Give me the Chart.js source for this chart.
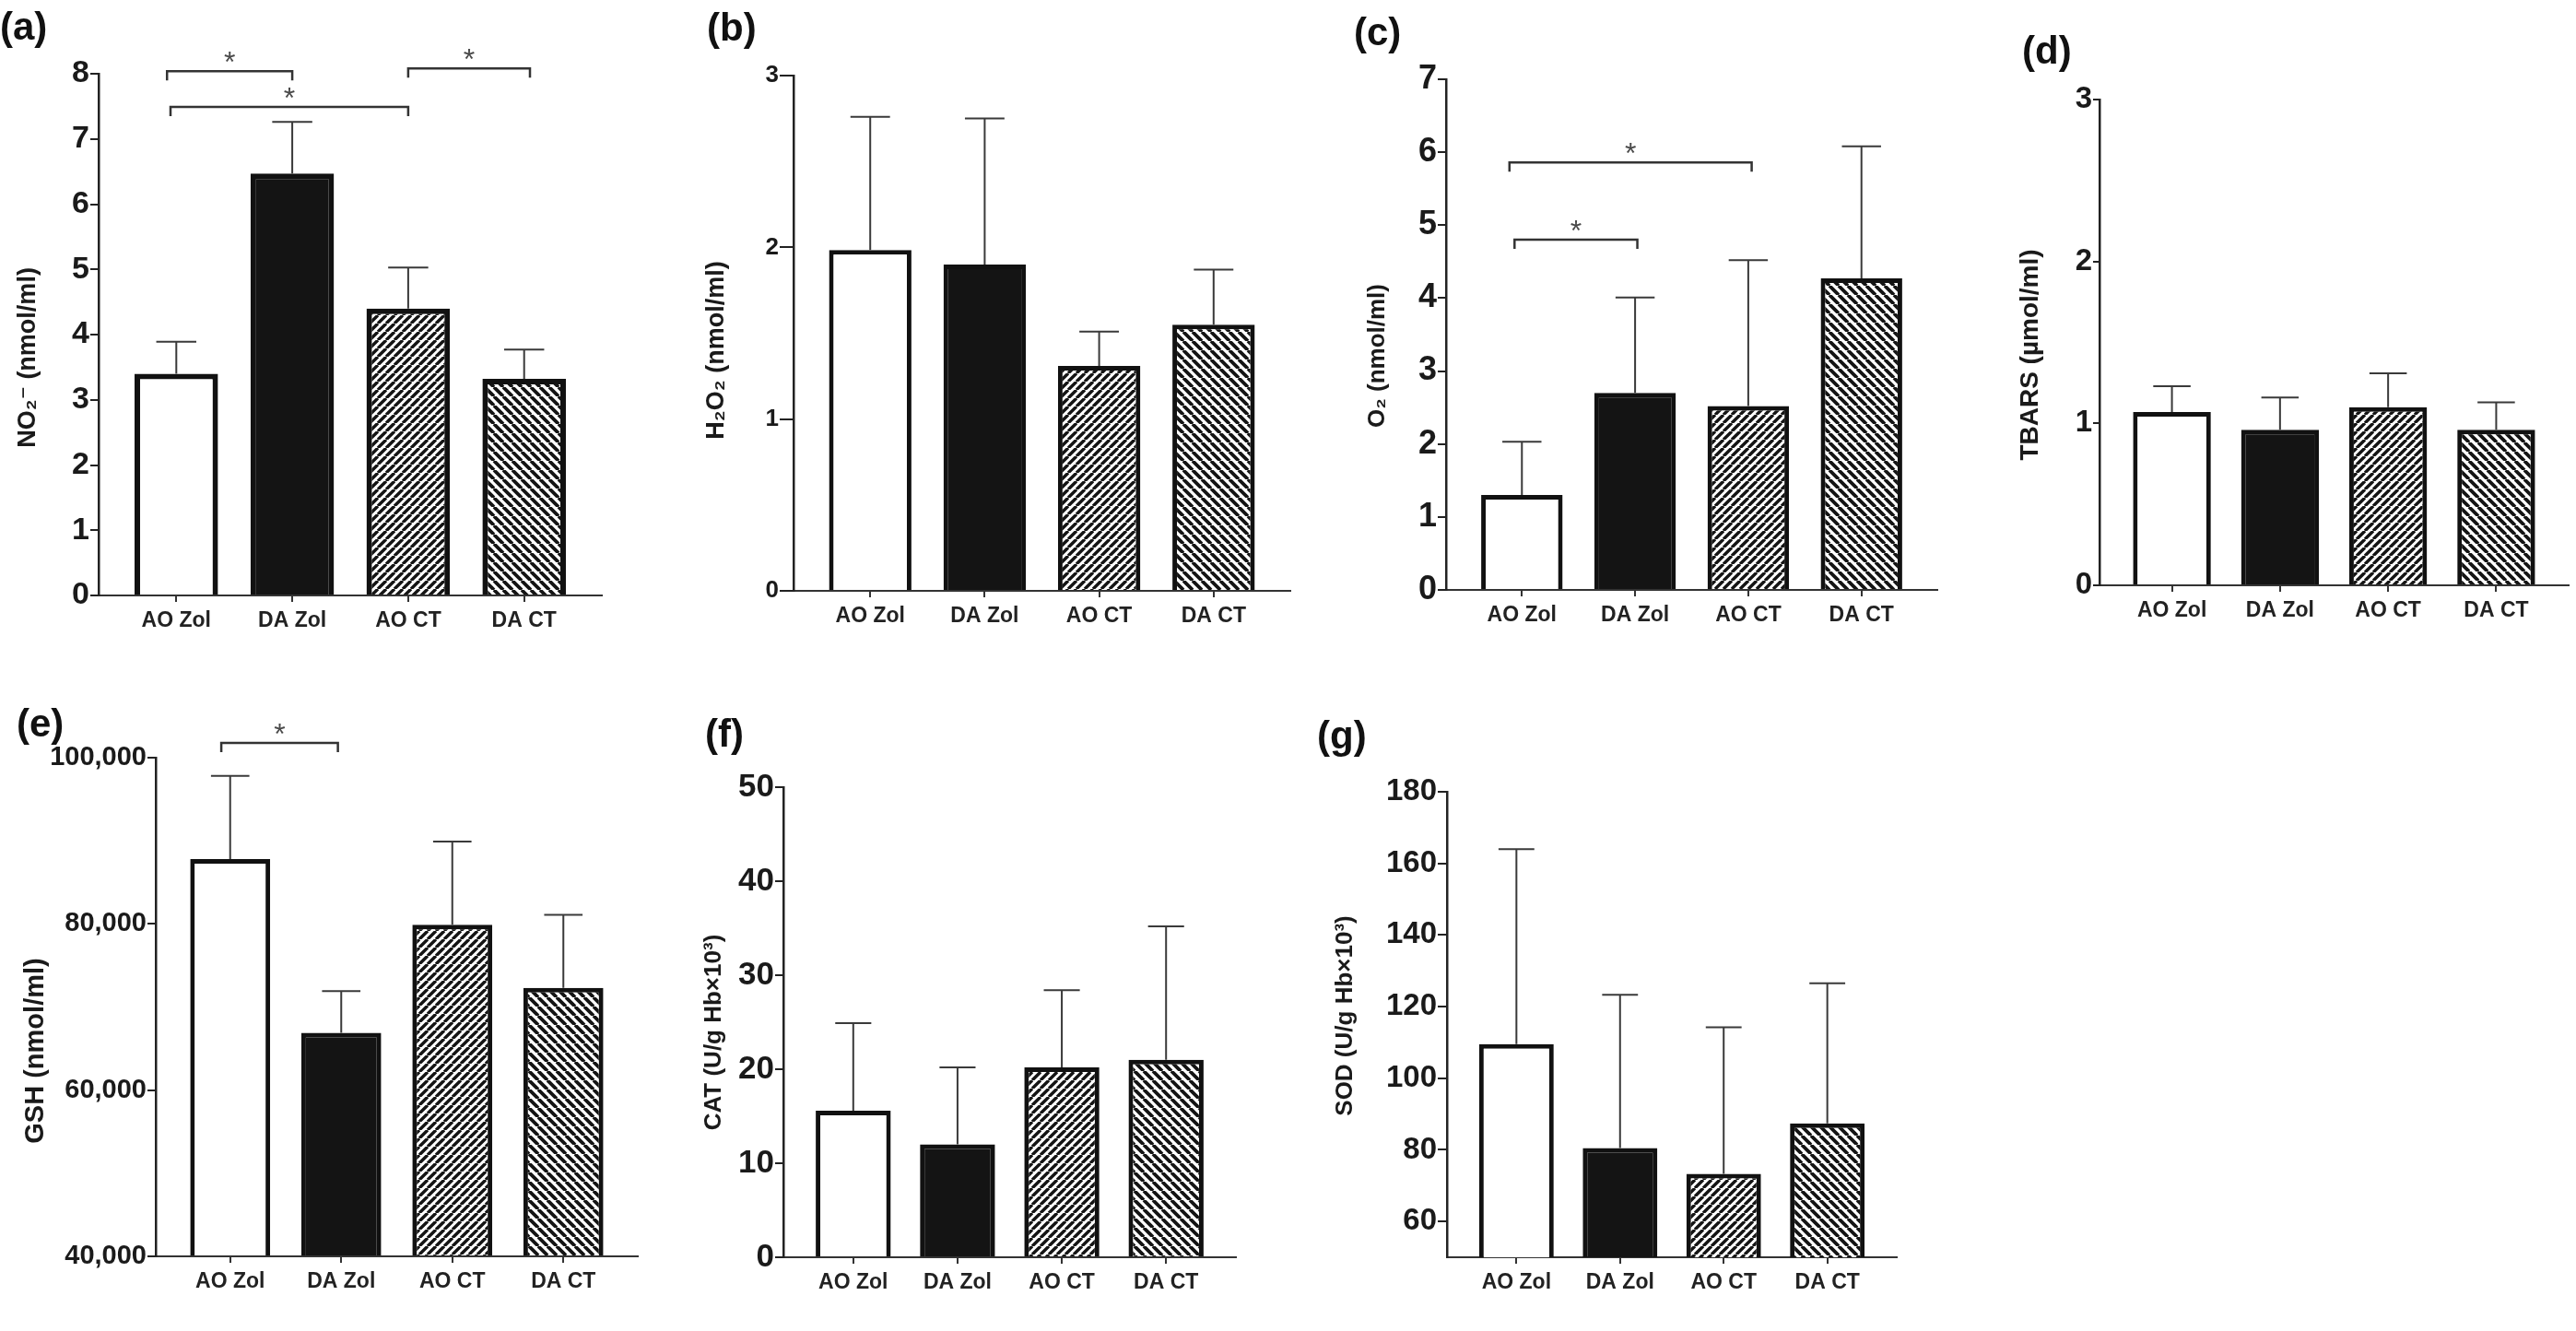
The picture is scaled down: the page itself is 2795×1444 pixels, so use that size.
<!DOCTYPE html>
<html>
<head>
<meta charset="utf-8">
<script src="https://cdn.jsdelivr.net/npm/chart.js@4.4.1/dist/chart.umd.min.js"></script>
<style>
  html, body { margin: 0; padding: 0; background: #fff; }
  body { position: relative; width: 2795px; height: 1444px; overflow: hidden; }
  canvas { position: absolute; }
</style>
</head>
<body>
<canvas id="panelA"></canvas>
<canvas id="panelB"></canvas>
<canvas id="panelC"></canvas>
<canvas id="panelD"></canvas>
<canvas id="panelE"></canvas>
<canvas id="panelF"></canvas>
<canvas id="panelG"></canvas>
<script>
// ==========================
// DATA (mean, SD, y ticks, significance brackets)
// ==========================
const groups = ["AO Zol", "DA Zol", "AO CT", "DA CT"];

const no2Mean = [3.40, 6.47, 4.40, 3.32];
const no2Sd = [0.49, 0.79, 0.63, 0.45];
const no2Ticks = [0, 1, 2, 3, 4, 5, 6, 7, 8];
const no2Sig = [{ from: -0.08, to: 1, y: 8.04 }, { from: -0.05, to: 2, y: 7.49 }, { from: 2, to: 3.05, y: 8.08 }];

const h2o2Mean = [1.985, 1.90, 1.31, 1.55];
const h2o2Sd = [0.775, 0.85, 0.20, 0.32];
const h2o2Ticks = [0, 1, 2, 3];

const o2Mean = [1.30, 2.70, 2.52, 4.27];
const o2Sd = [0.73, 1.31, 2.00, 1.81];
const o2Ticks = [0, 1, 2, 3, 4, 5, 6, 7];
const o2Sig = [{ from: -0.11, to: 2.03, y: 5.86 }, { from: -0.065, to: 1.02, y: 4.80 }];

const tbarsMean = [1.07, 0.96, 1.10, 0.96];
const tbarsSd = [0.16, 0.20, 0.21, 0.17];
const tbarsTicks = [0, 1, 2, 3];

const gshMean = [87800, 66900, 79900, 72300];
const gshSd = [10000, 5000, 10000, 8800];
const gshTicks = [40000, 60000, 80000, 100000];
const gshSig = [{ from: -0.08, to: 0.97, y: 101770 }];

const catMean = [15.6, 12.0, 20.2, 21.0];
const catSd = [9.3, 8.2, 8.2, 14.2];
const catTicks = [0, 10, 20, 30, 40, 50];

const sodMean = [109.5, 80.5, 73.3, 87.4];
const sodSd = [54.5, 42.8, 40.9, 39.1];
const sodTicks = [60, 80, 100, 120, 140, 160, 180];

// ==========================
// PANEL LAYOUT (page pixels)
// ==========================
const FONT = "'Liberation Sans', Arial, 'DejaVu Sans', sans-serif";
const rows = [{ top: 0, height: 720 }, { top: 722, height: 722 }];

const panels = [
  { id: "panelA", letter: "(a)", title: "NO₂⁻ (nmol/ml)", mean: no2Mean, sd: no2Sd, ticks: no2Ticks, sig: no2Sig,
    yMin: 0, yMax: 8, row: 0, axisL: 107, axisR: 653, top: 80, bottom: 646,
    letterAt: [0, 31], titleAt: [31, 388], tickFont: 34, titleFont: 27, tickLen: 9, border: 6 },
  { id: "panelB", letter: "(b)", title: "H₂O₂ (nmol/ml)", mean: h2o2Mean, sd: h2o2Sd, ticks: h2o2Ticks, sig: [],
    yMin: 0, yMax: 3, row: 0, axisL: 861, axisR: 1400, top: 82, bottom: 641,
    letterAt: [767, 32], titleAt: [778, 380], tickFont: 26, titleFont: 27, tickLen: 15, border: 5 },
  { id: "panelC", letter: "(c)", title: "O₂ (nmol/ml)", mean: o2Mean, sd: o2Sd, ticks: o2Ticks, sig: o2Sig,
    yMin: 0, yMax: 7, row: 0, axisL: 1569, axisR: 2102, top: 86, bottom: 640,
    letterAt: [1469, 37], titleAt: [1495, 386], tickFont: 36, titleFont: 26, tickLen: 9, border: 5 },
  { id: "panelD", letter: "(d)", title: "TBARS (µmol/ml)", mean: tbarsMean, sd: tbarsSd, ticks: tbarsTicks, sig: [],
    yMin: 0, yMax: 3, row: 0, axisL: 2278, axisR: 2787, top: 108, bottom: 635,
    letterAt: [2194, 57], titleAt: [2203, 385], tickFont: 33, titleFont: 28, tickLen: 7, border: 5 },
  { id: "panelE", letter: "(e)", title: "GSH (nmol/ml)", mean: gshMean, sd: gshSd, ticks: gshTicks, sig: gshSig,
    yMin: 40000, yMax: 100000, row: 1, axisL: 169, axisR: 692, top: 822, bottom: 1363,
    letterAt: [18, 787], titleAt: [39, 1140], tickFont: 29, titleFont: 29, tickLen: 9, border: 5 },
  { id: "panelF", letter: "(f)", title: "CAT (U/g Hb×10³)", mean: catMean, sd: catSd, ticks: catTicks, sig: [],
    yMin: 0, yMax: 50, row: 1, axisL: 850, axisR: 1341, top: 854, bottom: 1364,
    letterAt: [765, 798], titleAt: [775, 1120], tickFont: 35, titleFont: 26, tickLen: 9, border: 5 },
  { id: "panelG", letter: "(g)", title: "SOD (U/g Hb×10³)", mean: sodMean, sd: sodSd, ticks: sodTicks, sig: [],
    yMin: 50, yMax: 180, row: 1, axisL: 1570, axisR: 2058, top: 859, bottom: 1364,
    letterAt: [1429, 800], titleAt: [1460, 1102], tickFont: 33, titleFont: 26, tickLen: 10, border: 5 }
];

function hatch(ctx, dir, size, lw) {
  const tile = document.createElement("canvas");
  tile.width = tile.height = size;
  const g = tile.getContext("2d");
  g.fillStyle = "#fff";
  g.fillRect(0, 0, size, size);
  g.strokeStyle = "#141414";
  g.lineWidth = lw;
  g.beginPath();
  for (const o of [-size, 0, size]) {
    if (dir > 0) { g.moveTo(o, size); g.lineTo(o + size, 0); }
    else { g.moveTo(o, 0); g.lineTo(o + size, size); }
  }
  g.stroke();
  return ctx.createPattern(tile, "repeat");
}

// error bars, significance brackets, panel letter and y title
function decorPlugin(p, cx, cy) {
  return {
    id: "decor",
    afterDatasetsDraw(chart) {
      const ctx = chart.ctx;
      const xs = chart.scales.x, ys = chart.scales.y;
      const meta = chart.getDatasetMeta(0);
      ctx.save();
      ctx.strokeStyle = "#3a3a3a";
      ctx.lineWidth = 2;
      meta.data.forEach((bar, i) => {
        const top = ys.getPixelForValue(p.mean[i] + p.sd[i]);
        const half = bar.width * 0.24;
        ctx.beginPath();
        ctx.moveTo(bar.x, bar.y);
        ctx.lineTo(bar.x, top);
        ctx.moveTo(bar.x - half, top);
        ctx.lineTo(bar.x + half, top);
        ctx.stroke();
      });

      ctx.strokeStyle = "#333";
      ctx.lineWidth = 2.5;
      ctx.fillStyle = "#4a4a4a";
      ctx.font = "32px " + FONT;
      ctx.textAlign = "center";
      ctx.textBaseline = "alphabetic";
      p.sig.forEach(s => {
        const x1 = xs.getPixelForValue(s.from), x2 = xs.getPixelForValue(s.to);
        const yy = ys.getPixelForValue(s.y);
        ctx.beginPath();
        ctx.moveTo(x1, yy + 10);
        ctx.lineTo(x1, yy);
        ctx.lineTo(x2, yy);
        ctx.lineTo(x2, yy + 10);
        ctx.stroke();
        ctx.fillText("*", (x1 + x2) / 2, yy + 1);
      });
      ctx.restore();
    },
    afterDraw(chart) {
      const ctx = chart.ctx;
      ctx.save();
      ctx.fillStyle = "#111";
      ctx.font = "bold 42px " + FONT;
      ctx.textAlign = "left";
      ctx.textBaseline = "middle";
      ctx.fillText(p.letter, p.letterAt[0] - cx, p.letterAt[1] - cy);

      ctx.translate(p.titleAt[0] - cx, p.titleAt[1] - cy);
      ctx.rotate(-Math.PI / 2);
      ctx.font = "bold " + p.titleFont + "px " + FONT;
      ctx.textAlign = "center";
      ctx.fillStyle = "#1a1a1a";
      ctx.fillText(p.title, 0, 0);
      ctx.restore();
    }
  };
}

function makePanel(p) {
  const row = rows[p.row];
  const cx = Math.min(p.letterAt[0], p.titleAt[0] - 20) - 4;
  const cy = row.top;
  const cw = p.axisR + 8 - cx;
  const ch = row.height;

  const canvas = document.getElementById(p.id);
  canvas.width = cw;
  canvas.height = ch;
  canvas.style.left = cx + "px";
  canvas.style.top = cy + "px";
  const ctx = canvas.getContext("2d");

  const fills = ["#ffffff", "#141414", hatch(ctx, 1, 9, 3.4), hatch(ctx, -1, 10, 3.8)];

  return new Chart(ctx, {
    type: "bar",
    data: {
      datasets: [{
        data: p.mean.map((v, i) => ({ x: i, y: v })),
        backgroundColor: fills,
        borderColor: "#111",
        borderWidth: p.border,
        base: p.yMin
      }]
    },
    options: {
      responsive: false,
      animation: false,
      devicePixelRatio: 1,
      layout: { padding: { left: 0, top: p.top - cy, right: cx + cw - p.axisR, bottom: 0 } },
      plugins: { legend: { display: false }, tooltip: { enabled: false } },
      scales: {
        x: {
          type: "linear",
          min: -0.67,
          max: 3.67,
          offset: false,
          afterBuildTicks: s => { s.ticks = groups.map((g, i) => ({ value: i })); },
          afterFit: s => { s.height = cy + ch - p.bottom; },
          grid: { drawOnChartArea: false, offset: false, color: "#333", lineWidth: 2, tickLength: 7 },
          border: { color: "#333", width: 2 },
          ticks: {
            callback: v => groups[v],
            font: { family: FONT, size: 23, weight: "bold" },
            color: "#222",
            padding: 7,
            maxRotation: 0,
            autoSkip: false
          }
        },
        y: {
          min: p.yMin,
          max: p.yMax,
          afterBuildTicks: s => { s.ticks = p.ticks.map(v => ({ value: v })); },
          afterFit: s => { s.width = p.axisL - cx; },
          grid: { drawOnChartArea: false, color: "#222", lineWidth: 2, tickLength: p.tickLen },
          border: { color: "#222", width: 2.5 },
          ticks: {
            callback: v => v.toLocaleString("en-US"),
            font: { family: FONT, size: p.tickFont, weight: "bold" },
            color: "#1a1a1a",
            padding: 1,
            autoSkip: false
          }
        }
      }
    },
    plugins: [decorPlugin(p, cx, cy)]
  });
}

panels.forEach(makePanel);
</script>
</body>
</html>
